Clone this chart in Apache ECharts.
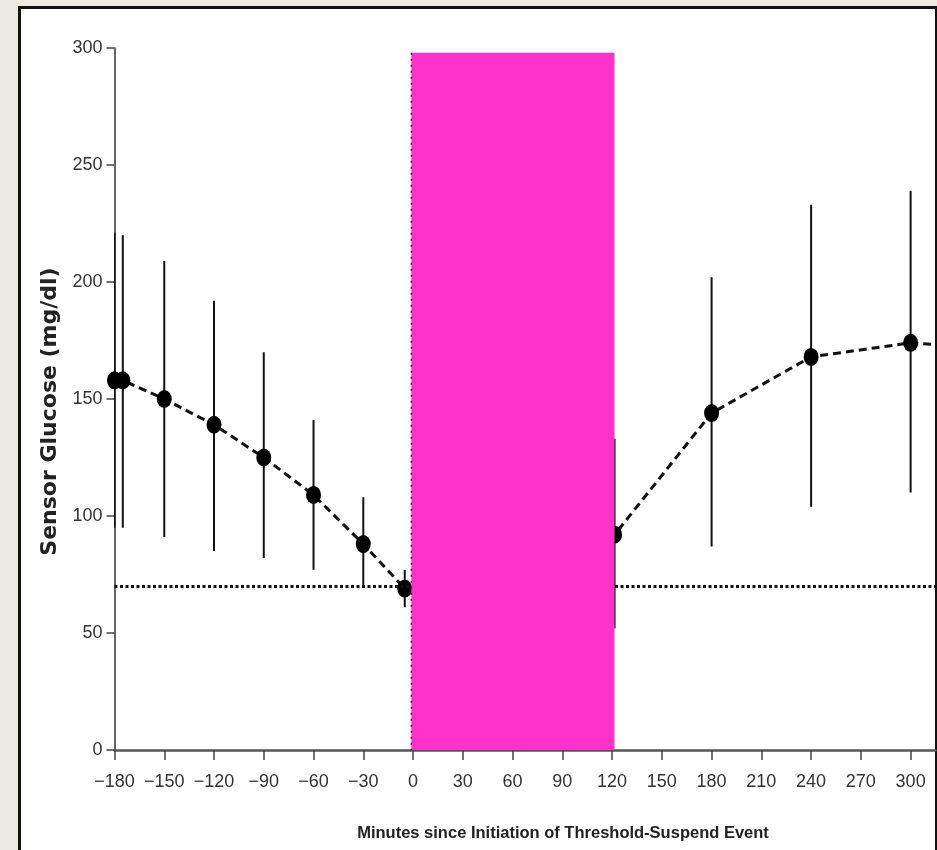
<!DOCTYPE html>
<html>
<head>
<meta charset="utf-8">
<script src="https://cdn.jsdelivr.net/npm/echarts@6/dist/echarts.min.js"></script>
<style>
html, body { margin: 0; overflow: hidden; background: #edebe1; }
#frame { position: absolute; left: 18px; top: 6px; width: 914px; height: 900px; border: 3px solid #111; background: #fff; }
#main { position: absolute; left: 0; top: 0; width: 937px; height: 850px; }
</style>
</head>
<body>
<div id="frame"></div>
<div id="main"></div>
<script>
// 数据：传感器血糖均值和误差棒
var minutes = [-180, -175, -150, -120, -90, -60, -30, -5, 121.5, 180, 240, 300, 330];
var glucose = [158, 158, 150, 139, 125, 109, 88, 69, 92, 144, 168, 174, 172.5];
var barMinutes = [-180, -175, -150, -120, -90, -60, -30, -5, 121.5, 180, 240, 300];
var barLow = [95, 95, 91, 85, 82, 77, 70, 61, 52, 87, 104, 110];
var barHigh = [221, 220, 209, 192, 170, 141, 108, 77, 133, 202, 233, 239];
var threshold = 70;
var hiddenBand = [-1, 121.5, 298]; // 品红色遮挡块：起、止、上沿

var labelFont = '"Liberation Sans", Arial, sans-serif';

var myChart = echarts.init(document.getElementById('main'));

var lineData = minutes.map(function (m, i) { return [m, glucose[i]]; });
var barData = barMinutes.map(function (m, i) { return [m, barLow[i], barHigh[i]]; });

var option = {
    animation: false,
    grid: { left: 114.5, top: 48, width: 821, height: 702 },
    xAxis: {
        type: 'value',
        min: -180,
        max: 315,
        interval: 30,
        splitLine: { show: false },
        axisLine: { onZero: false, lineStyle: { color: '#555', width: 2.5 } },
        axisTick: { length: 10, lineStyle: { color: '#444', width: 1.5 } },
        axisLabel: {
            margin: 23,
            fontFamily: labelFont,
            fontSize: 18,
            color: '#333',
            showMaxLabel: false,
            formatter: function (v) {
                if (v % 30 !== 0) return '';
                return String(v).replace('-', '\u2212');
            }
        },
        name: 'Minutes since Initiation of Threshold-Suspend Event',
        nameLocation: 'middle',
        nameGap: 75,
        nameTextStyle: {
            fontFamily: labelFont,
            fontWeight: 'bold',
            fontSize: 16.5,
            color: '#222',
            padding: [0, 0, 0, 76]
        }
    },
    yAxis: {
        type: 'value',
        min: 0,
        max: 300,
        interval: 50,
        splitLine: { show: false },
        axisLine: { onZero: false, lineStyle: { color: '#333', width: 1.5 } },
        axisTick: { length: 8, lineStyle: { color: '#444', width: 1.5 } },
        axisLabel: { margin: 12, fontFamily: labelFont, fontSize: 18, color: '#333' },
        name: 'Sensor Glucose (mg/dl)',
        nameLocation: 'middle',
        nameGap: 53,
        nameTextStyle: {
            fontFamily: '"DejaVu Sans", sans-serif',
            fontWeight: 'bold',
            fontSize: 22,
            color: '#222',
            padding: [0, 25, 0, 0]
        }
    },
    series: [
        {
            // 误差棒
            type: 'custom',
            z: 3,
            clip: true,
            data: barData,
            renderItem: function (params, api) {
                var top = api.coord([api.value(0), api.value(2)]);
                var bot = api.coord([api.value(0), api.value(1)]);
                return {
                    type: 'line',
                    shape: { x1: top[0], y1: top[1], x2: bot[0], y2: bot[1] },
                    style: { stroke: '#111', lineWidth: 2 }
                };
            }
        },
        {
            type: 'line',
            z: 4,
            clip: true,
            data: lineData,
            symbol: 'circle',
            symbolSize: [15, 18],
            itemStyle: { color: '#000' },
            lineStyle: { color: '#111', width: 3, type: [8, 5] },
            markLine: {
                silent: true,
                symbol: 'none',
                label: { show: false },
                lineStyle: { color: '#111', width: 3, type: [3, 2.5] },
                data: [{ yAxis: threshold }]
            }
        },
        {
            // 品红遮挡块
            type: 'custom',
            z: 20,
            data: [hiddenBand],
            renderItem: function (params, api) {
                var p0 = api.coord([api.value(0), api.value(2)]);
                var p1 = api.coord([api.value(1), 0]);
                return {
                    type: 'group',
                    children: [
                        {
                            type: 'rect',
                            shape: { x: p0[0], y: p0[1], width: p1[0] - p0[0], height: p1[1] - p0[1] },
                            style: { fill: '#ff33cc' }
                        },
                        {
                            type: 'line',
                            shape: { x1: p0[0], y1: p0[1], x2: p0[0], y2: p1[1] },
                            style: { stroke: '#222', lineWidth: 1.5, lineDash: [2, 4] }
                        }
                    ]
                };
            }
        }
    ]
};

myChart.setOption(option);
</script>
</body>
</html>
